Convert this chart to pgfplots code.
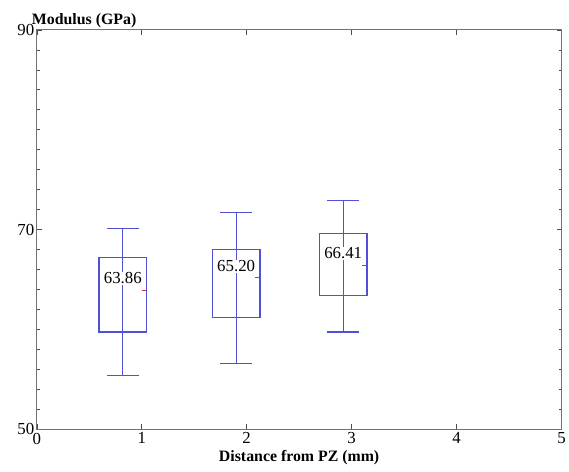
\documentclass[border=0pt]{standalone}
\usepackage{fontspec}
\setmainfont{Liberation Serif}
\usepackage{pgfplots}
\pgfplotsset{compat=1.18}
\usepgfplotslibrary{statistics}
\definecolor{boxc}{RGB}{80,80,215}
\definecolor{meanc}{RGB}{235,40,40}

\begin{document}
\begin{tikzpicture}
\begin{axis}[
    name=ax,
    scale only axis,
    width=528bp, height=402bp,
    xmin=0, xmax=5, ymin=50, ymax=90,
    xtick={0,1,2,3,4,5}, ytick={50,70,90},
    minor y tick num=9,
    /pgf/number format/assume math mode=true,
    tick label style={font=\fontsize{17}{17}\selectfont},
    yticklabel style={xshift=1bp},
    axis line style={black!55, line width=0.8pt},
    tick style={black!70, line width=0.5pt},
    major tick length=5bp, minor tick length=3bp,
    xlabel={Distance from PZ (mm)},
    xlabel style={font=\fontsize{16}{16}\selectfont\bfseries, yshift=1bp},
    clip=false,
    boxplot/draw direction=y,
    boxplot/every median/.style={draw=none},
    every axis plot/.append style={line width=1.2bp},
]
% whisker line through the box
\addplot[color=boxc] coordinates {(0.82,55.4) (0.82,70.1)};
\addplot[color=boxc] coordinates {(1.90,56.6) (1.90,71.7)};
\addplot[color=boxc] coordinates {(2.92,59.75) (2.92,72.9)};

\addplot[color=boxc, boxplot prepared={draw position=0.82,
    lower whisker=55.4, lower quartile=59.75, median=63.86,
    upper quartile=67.2, upper whisker=70.1,
    box extend=0.455, whisker extend=0.30}] coordinates {};
\addplot[color=boxc, boxplot prepared={draw position=1.90,
    lower whisker=56.6, lower quartile=61.2, median=65.20,
    upper quartile=68.0, upper whisker=71.7,
    box extend=0.455, whisker extend=0.30}] coordinates {};
\addplot[color=boxc, boxplot prepared={draw position=2.92,
    lower whisker=59.75, lower quartile=63.4, median=66.41,
    upper quartile=69.6, upper whisker=72.9,
    box extend=0.455, whisker extend=0.30}] coordinates {};

% mean marks
\addplot[color=meanc] coordinates {(1.00,63.86) (1.045,63.86)};
\addplot[color=meanc] coordinates {(2.08,65.20) (2.125,65.20)};
\addplot[color=meanc] coordinates {(3.10,66.41) (3.145,66.41)};

\node[fill=white, inner sep=1pt, font=\fontsize{17}{17}\selectfont] at (axis cs:0.82,65.1) {63.86};
\node[fill=white, inner sep=1pt, font=\fontsize{17}{17}\selectfont] at (axis cs:1.90,66.3) {65.20};
\node[fill=white, inner sep=1pt, font=\fontsize{17}{17}\selectfont] at (axis cs:2.92,67.6) {66.41};

\node[anchor=south west, inner sep=0pt, font=\fontsize{16}{16}\selectfont\bfseries]
    at (rel axis cs:0,1) [xshift=-5bp, yshift=2bp] {Modulus (GPa)};
\end{axis}
% page size of the reference
\path ([xshift=-37bp, yshift=-42bp]ax.south west);
\path ([xshift=4bp, yshift=30bp]ax.north east);
\end{tikzpicture}
\end{document}
